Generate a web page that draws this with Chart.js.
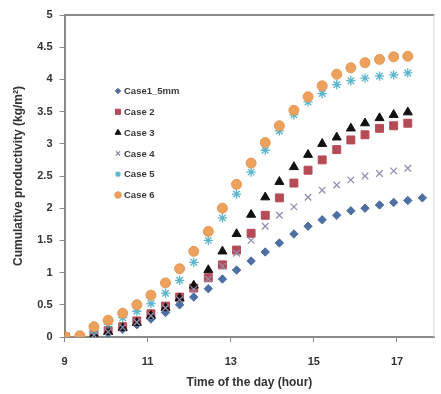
<!DOCTYPE html>
<html lang="en">
  <head>
    <meta charset="UTF-8" />
    <title>Cumulative productivity</title>
    <script src="https://cdn.jsdelivr.net/npm/chart.js"></script>
    <style>
      html,
      body {
        margin: 0;
        padding: 0;
        background: #fff;
      }
      .chart-container {
        width: 441px;
        height: 394px;
      }
    </style>
  </head>
  <body>
    <div class="chart-container">
      <canvas id="prodChart" width="441" height="394"></canvas>
    </div>

    <script>
      // hours of the day
      const times = [
        9.02, 9.37, 9.71, 10.05, 10.4, 10.74, 11.08, 11.43, 11.77, 12.11,
        12.46, 12.8, 13.14, 13.49, 13.83, 14.17, 14.52, 14.86, 15.2, 15.55,
        15.89, 16.23, 16.58, 16.92, 17.26, 17.61,
      ];

      const seriesNames = ["Case1_5mm", "Case 2", "Case 3", "Case 4", "Case 5", "Case 6"];

      const case1 = [
        0, 0, 0.02, 0.06, 0.12, 0.19, 0.28, 0.38, 0.5, 0.62, 0.75, 0.9, 1.04,
        1.18, 1.32, 1.46, 1.6, 1.72, 1.82, 1.89, 1.96, 2.0, 2.05, 2.09, 2.12, 2.16,
      ];
      const case2 = [
        0, 0, 0.04, 0.1, 0.16, 0.25, 0.36, 0.48, 0.62, 0.76, 0.92, 1.12, 1.35,
        1.61, 1.89, 2.16, 2.39, 2.59, 2.75, 2.91, 3.06, 3.14, 3.24, 3.28, 3.32,
      ];
      const case3 = [
        0, 0, 0.03, 0.08, 0.14, 0.22, 0.33, 0.45, 0.6, 0.8, 1.04, 1.33, 1.6,
        1.9, 2.17, 2.41, 2.64, 2.83, 3.0, 3.1, 3.24, 3.32, 3.4, 3.45, 3.49,
      ];
      const case4 = [
        0, 0, 0.03, 0.08, 0.15, 0.23, 0.33, 0.45, 0.58, 0.74, 0.9, 1.1, 1.3,
        1.5, 1.72, 1.89, 2.02, 2.17, 2.28, 2.36, 2.44, 2.5, 2.54, 2.58, 2.62,
      ];
      const case5 = [
        0, 0.01, 0.1, 0.2, 0.3, 0.4, 0.52, 0.68, 0.88, 1.16, 1.5, 1.85, 2.22,
        2.56, 2.9, 3.2, 3.45, 3.65, 3.78, 3.92, 3.98, 4.02, 4.05, 4.07, 4.1,
      ];
      const case6 = [
        0, 0.02, 0.16, 0.26, 0.37, 0.5, 0.65, 0.84, 1.06, 1.33, 1.64, 2.0, 2.37,
        2.7, 3.02, 3.28, 3.52, 3.73, 3.9, 4.08, 4.18, 4.26, 4.31, 4.35, 4.36,
      ];

      const xTicks = [9, 11, 13, 15, 17];
      const yTicks = [0, 0.5, 1, 1.5, 2, 2.5, 3, 3.5, 4, 4.5, 5];

      function toPoints(values) {
        return values.map((v, i) => ({ x: times[i], y: v }));
      }

      const styles = [
        { pointStyle: "rectRot", radius: 4.2, fill: "#4d6fa3", stroke: "#4d6fa3", width: 1 },
        { pointStyle: "rect", radius: 5.6, fill: "#b54b57", stroke: "#b54b57", width: 1 },
        { pointStyle: "triangle", radius: 5.2, fill: "#111", stroke: "#111", width: 1 },
        { pointStyle: "crossRot", radius: 4.6, fill: "#958db0", stroke: "#958db0", width: 1.3 },
        { pointStyle: "star", radius: 4.6, fill: "#5ab5cc", stroke: "#5ab5cc", width: 1.3 },
        { pointStyle: "circle", radius: 5, fill: "#eca25c", stroke: "#e39755", width: 1 },
      ];

      const allSeries = [case1, case2, case3, case4, case5, case6];

      const datasets = allSeries.map((vals, i) => ({
        label: seriesNames[i],
        data: toPoints(vals),
        showLine: false,
        pointStyle: styles[i].pointStyle,
        pointRadius: styles[i].radius,
        pointHoverRadius: styles[i].radius,
        pointBackgroundColor: styles[i].fill,
        pointBorderColor: styles[i].stroke,
        pointBorderWidth: styles[i].width,
        order: 5 - i,
      }));

      const FONT = "'Liberation Sans', Arial, sans-serif";

      // frame on top and right side, legend inside the plot
      const framePlugin = {
        id: "frame",
        beforeDatasetsDraw(chart) {
          const { ctx, chartArea: a } = chart;
          ctx.save();
          ctx.strokeStyle = "#8a8a8a";
          ctx.lineWidth = 2;
          ctx.beginPath();
          ctx.moveTo(a.left, a.top);
          ctx.lineTo(a.right, a.top);
          ctx.stroke();
          ctx.strokeStyle = "#d8d8d8";
          ctx.lineWidth = 1;
          ctx.beginPath();
          ctx.moveTo(a.right - 0.5, a.top);
          ctx.lineTo(a.right - 0.5, a.bottom);
          ctx.stroke();
          ctx.restore();
        },
        afterDraw(chart) {
          const ctx = chart.ctx;
          const helpers = Chart.helpers;
          ctx.save();
          ctx.font = "bold 9.5px " + FONT;
          ctx.textBaseline = "middle";
          ctx.textAlign = "left";
          seriesNames.forEach((name, i) => {
            const y = 91 + i * 20.8;
            const s = styles[i];
            ctx.fillStyle = s.fill;
            ctx.strokeStyle = s.stroke;
            ctx.lineWidth = s.width;
            if (helpers && helpers.drawPoint) {
              helpers.drawPoint(ctx, { pointStyle: s.pointStyle, radius: s.radius * 0.65, rotation: 0, borderWidth: s.width }, 118, y);
            }
            ctx.fillStyle = "#3a3a3a";
            ctx.fillText(name, 124, y + 0.5);
          });
          ctx.restore();
        },
      };

      const ctx = document.getElementById("prodChart").getContext("2d");

      new Chart(ctx, {
        type: "scatter",
        data: { datasets: datasets },
        plugins: [framePlugin],
        options: {
          responsive: false,
          animation: false,
          layout: { padding: { top: 15, right: 1, left: 0, bottom: 0 } },
          plugins: {
            legend: { display: false },
            tooltip: { enabled: false },
          },
          scales: {
            x: {
              type: "linear",
              min: 9,
              max: 17.9,
              afterBuildTicks(scale) {
                scale.ticks = xTicks.map((v) => ({ value: v }));
              },
              afterFit(scale) {
                scale.height = 57;
              },
              grid: {
                drawOnChartArea: false,
                drawTicks: true,
                tickLength: 5,
                color: "#8a8a8a",
              },
              border: { color: "#8a8a8a", width: 2 },
              ticks: {
                padding: 13,
                color: "#333",
                font: { family: FONT, size: 11, weight: "bold" },
                callback: (v) => String(v),
              },
              title: {
                display: true,
                text: "Time of the day (hour)",
                color: "#333",
                font: { family: FONT, size: 12, weight: "bold" },
                padding: { top: 0, bottom: 4 },
              },
            },
            y: {
              min: 0,
              max: 5,
              afterBuildTicks(scale) {
                scale.ticks = yTicks.map((v) => ({ value: v }));
              },
              afterFit(scale) {
                scale.width = 64.5;
              },
              grid: {
                drawOnChartArea: false,
                drawTicks: true,
                tickLength: 5,
                color: "#8a8a8a",
              },
              border: { color: "#8a8a8a", width: 2 },
              ticks: {
                padding: 7,
                color: "#333",
                font: { family: FONT, size: 11, weight: "bold" },
                callback: (v) => String(v),
              },
              title: {
                display: true,
                text: "Cumulative productivity (kg/m²)",
                color: "#333",
                font: { family: FONT, size: 12, weight: "bold" },
                padding: { top: 11, bottom: 0 },
              },
            },
          },
        },
      });
    </script>
  </body>
</html>
